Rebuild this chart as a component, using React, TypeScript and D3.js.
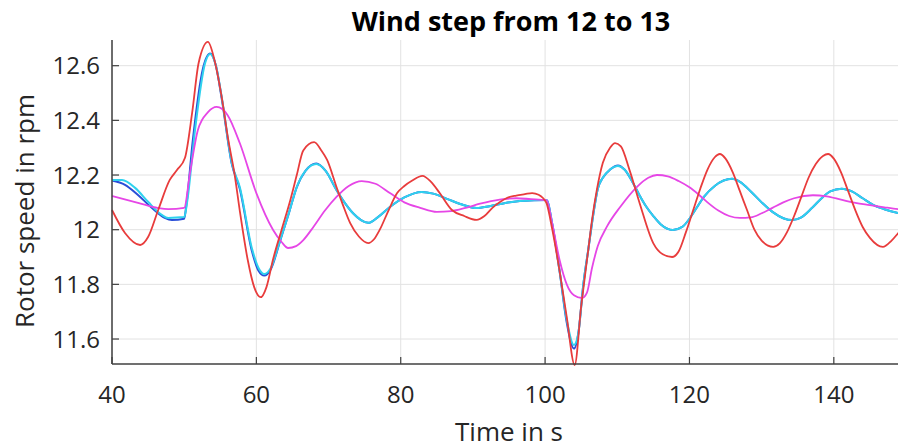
import React from "react";
import * as d3 from "d3";

// Time (s) / rotor speed (rpm) samples
const redT = [40, 41.8, 43.9, 45, 46.4, 48, 49, 50.1, 51.1, 52, 53.3, 54.2, 55.2, 56.1, 57, 57.7, 58.8, 59.7, 60.6, 61.4, 62.3, 63.5, 64.7, 65.6, 66.5, 68, 69, 69.8, 71.1, 72, 73, 74.2, 75.5, 76.3, 77.1, 78.3, 79.5, 80.5, 81.6, 83, 84.2, 85.4, 87.1, 88.8, 90.5, 91.6, 92.7, 93.7, 94.7, 96, 97.2, 98.2, 99.1, 99.7, 100.2, 101, 102, 103, 104.1, 105, 106, 106.5, 107.2, 108, 109, 109.7, 110.5, 111.7, 113.1, 115, 116.3, 117.6, 118.5, 119.5, 120.5, 121.5, 122.5, 123.5, 124.2, 125, 126, 127, 128, 129, 130, 131.6, 132.5, 133.5, 134.5, 135.5, 136.5, 137.5, 138.5, 139.2, 140, 141, 142, 143, 144, 145, 146.8, 148, 149, 150];
const redV = [12.072, 11.988, 11.944, 11.973, 12.072, 12.182, 12.218, 12.262, 12.427, 12.61, 12.687, 12.62, 12.485, 12.33, 12.2, 12.07, 11.89, 11.79, 11.753, 11.79, 11.89, 12.0, 12.108, 12.2, 12.29, 12.32, 12.29, 12.255, 12.156, 12.09, 12.024, 11.975, 11.951, 11.965, 12.0, 12.07, 12.134, 12.16, 12.18, 12.197, 12.175, 12.134, 12.072, 12.05, 12.036, 12.05, 12.08, 12.1, 12.116, 12.125, 12.13, 12.134, 12.128, 12.116, 12.097, 12.0, 11.85, 11.68, 11.505, 11.72, 11.93, 12.035, 12.15, 12.245, 12.3, 12.317, 12.305, 12.218, 12.097, 11.95, 11.91, 11.9, 11.92, 11.99, 12.07, 12.15, 12.22, 12.265, 12.277, 12.26, 12.21, 12.14, 12.07, 12.0, 11.96, 11.937, 11.95, 11.99, 12.05, 12.12, 12.19, 12.24, 12.27, 12.277, 12.26, 12.21, 12.14, 12.07, 12.01, 11.97, 11.937, 11.96, 11.99, 12.02];

const cyanT = [40, 41.4, 43.2, 45, 46.9, 47.8, 50, 50.4, 51.5, 52.9, 53.6, 54.4, 55.2, 56.6, 57.7, 59.4, 60.3, 61.1, 62, 63.3, 64.5, 65.6, 66.8, 68.3, 69.6, 71.1, 72.2, 73.4, 74.5, 75.5, 76.8, 78.5, 80.5, 82.9, 84.5, 86.5, 88.5, 90.5, 92.3, 94.5, 96.5, 98.5, 100.2, 101, 102, 103, 104, 104.6, 105.3, 106, 106.7, 107.3, 108, 109, 110.1, 111, 112.2, 113, 114, 115, 116, 117.7, 119, 120, 121, 122, 123.5, 125.9, 127, 128.5, 130, 131.5, 133, 134.2, 135.5, 137, 138.5, 139.5, 141.1, 142.5, 144, 145.5, 147, 148.9, 150];
const cyanV = [12.182, 12.182, 12.153, 12.102, 12.054, 12.043, 12.046, 12.1, 12.364, 12.61, 12.643, 12.6, 12.485, 12.243, 12.156, 11.93, 11.86, 11.838, 11.86, 11.962, 12.06, 12.156, 12.215, 12.24, 12.215, 12.145, 12.1, 12.06, 12.035, 12.025, 12.045, 12.083, 12.118, 12.138, 12.132, 12.112, 12.092, 12.079, 12.086, 12.098, 12.105, 12.108, 12.109, 12.02, 11.85, 11.67, 11.578, 11.62, 11.8, 11.93, 12.06, 12.15, 12.19, 12.22, 12.233, 12.22, 12.17, 12.13, 12.085, 12.05, 12.02, 11.999, 12.01, 12.04, 12.08, 12.12, 12.16, 12.186, 12.175, 12.14, 12.1, 12.065, 12.042, 12.035, 12.045, 12.08, 12.12, 12.14, 12.15, 12.14, 12.115, 12.09, 12.075, 12.061, 12.055];

const blueT = [40, 41.8, 43.6, 45.5, 47.3, 48.3, 50, 50.3, 51.2, 52.6, 53.6, 54.4, 55.2, 56.6, 57.7, 59.4, 60.3, 61.1, 62, 63.3, 64.5, 65.6, 66.8, 68.3, 69.6, 71.1, 72.2, 73.4, 74.5, 75.5, 76.8, 78.5, 80.5, 82.9, 84.5, 86.5, 88.5, 90.5, 92.3, 94.5, 96.5, 98.5, 100.2, 101, 102, 103, 104, 104.6, 105.3, 106, 106.7, 107.3, 108, 109, 110.1, 111, 112.2, 113, 114, 115, 116, 117.7, 119, 120, 121, 122, 123.5, 125.9, 127, 128.5, 130, 131.5, 133, 134.2, 135.5, 137, 138.5, 139.5, 141.1, 142.5, 144, 145.5, 147, 148.9, 150];
const blueV = [12.18, 12.164, 12.127, 12.08, 12.043, 12.035, 12.04, 12.09, 12.328, 12.59, 12.645, 12.6, 12.48, 12.24, 12.15, 11.92, 11.85, 11.832, 11.855, 11.96, 12.06, 12.156, 12.215, 12.242, 12.215, 12.145, 12.1, 12.06, 12.035, 12.025, 12.045, 12.083, 12.118, 12.138, 12.132, 12.112, 12.092, 12.079, 12.086, 12.098, 12.105, 12.108, 12.109, 12.02, 11.85, 11.66, 11.565, 11.62, 11.8, 11.93, 12.06, 12.15, 12.19, 12.22, 12.235, 12.22, 12.17, 12.13, 12.085, 12.05, 12.02, 11.999, 12.01, 12.04, 12.08, 12.12, 12.16, 12.186, 12.175, 12.14, 12.1, 12.065, 12.042, 12.035, 12.045, 12.08, 12.12, 12.14, 12.15, 12.14, 12.115, 12.09, 12.075, 12.061, 12.055];

const magentaT = [40, 43.6, 46.4, 47.8, 50, 50.8, 51.9, 53.3, 54.5, 56, 57.7, 60, 62.3, 63.5, 64.4, 65.5, 66.5, 67.9, 69.5, 71.1, 72.8, 74.6, 76.5, 78.5, 80.5, 82.7, 85, 87, 89, 91, 93.7, 96, 98, 100.2, 101, 102, 103, 104, 105.1, 105.8, 106.5, 107.3, 108.6, 110.4, 112.7, 114.3, 115.5, 117, 118.5, 120, 121.3, 122.5, 124, 125.5, 127, 128.5, 130, 131.5, 133, 134.5, 137.1, 139, 141, 143, 145, 147, 148.9, 150];
const magentaV = [12.123, 12.098, 12.079, 12.075, 12.08, 12.207, 12.365, 12.43, 12.449, 12.42, 12.317, 12.134, 12.0, 11.955, 11.933, 11.94, 11.962, 12.01, 12.07, 12.12, 12.16, 12.178, 12.168, 12.134, 12.1, 12.08, 12.065, 12.068, 12.08, 12.095, 12.11, 12.115, 12.112, 12.108, 12.02, 11.89, 11.8, 11.76, 11.75, 11.77, 11.86, 11.94, 12.013, 12.083, 12.156, 12.19, 12.2, 12.195, 12.178, 12.155, 12.128, 12.1, 12.07, 12.05, 12.043, 12.045, 12.06, 12.08, 12.1, 12.115, 12.126, 12.122, 12.11, 12.098, 12.09, 12.082, 12.075, 12.072];

const xTicks = [40, 60, 80, 100, 120, 140];
const yTicks = [11.6, 11.8, 12, 12.2, 12.4, 12.6];
const yTickLabels = ["11.6", "11.8", "12", "12.2", "12.4", "12.6"];

const W = 898;
const H = 448;
const L = 112;
const R = 906;
const T = 40;
const B = 364;

export default function App() {
  const x = d3.scaleLinear().domain([40, 150]).range([L, R]);
  const y = d3.scaleLinear().domain([11.5086, 12.694]).range([B, T]);
  const line = d3
    .line<[number, number]>()
    .x((d) => x(d[0]))
    .y((d) => y(d[1]))
    .curve(d3.curveMonotoneX);
  const zip = (ts: number[], vs: number[]) => ts.map((t, i) => [t, vs[i]] as [number, number]);
  const series = [
    { t: blueT, v: blueV, color: "#2a4fd8", w: 2 },
    { t: cyanT, v: cyanV, color: "#2fd2ee", w: 2 },
    { t: magentaT, v: magentaV, color: "#e646e6", w: 1.8 },
    { t: redT, v: redV, color: "#e83c3c", w: 1.8 },
  ];
  const font = "'Open Sans', 'Noto Sans', sans-serif";
  return (
    <svg width={W} height={H} style={{ position: "absolute", left: 0, top: 0, background: "#fff" }} fontFamily={font}>
      <rect width={W} height={H} fill="#fff" />
      {yTicks.map((v) => (
        <line key={"gy" + v} x1={L} x2={R} y1={y(v)} y2={y(v)} stroke="#e2e2e2" strokeWidth={1} />
      ))}
      {xTicks.map((t) => (
        <line key={"gx" + t} x1={x(t)} x2={x(t)} y1={T} y2={B} stroke="#e2e2e2" strokeWidth={1} />
      ))}
      {series.map((s, i) => (
        <path key={i} d={line(zip(s.t, s.v)) || ""} fill="none" stroke={s.color} strokeWidth={s.w} strokeLinejoin="round" />
      ))}
      <line x1={L} x2={L} y1={T} y2={B} stroke="#404040" strokeWidth={1.5} />
      <line x1={L} x2={R} y1={B} y2={B} stroke="#404040" strokeWidth={1.5} />
      {yTicks.map((v, i) => (
        <g key={"ty" + v}>
          <line x1={L} x2={L + 7} y1={y(v)} y2={y(v)} stroke="#404040" strokeWidth={1.2} />
          <text x={L - 12} y={y(v)} dy="0.36em" textAnchor="end" fontSize={24} fill="#262626">
            {yTickLabels[i]}
          </text>
        </g>
      ))}
      {xTicks.map((t) => (
        <g key={"tx" + t}>
          <line x1={x(t)} x2={x(t)} y1={B} y2={B - 7} stroke="#404040" strokeWidth={1.2} />
          <text x={x(t)} y={B + 39} textAnchor="middle" fontSize={24} fill="#262626">
            {t}
          </text>
        </g>
      ))}
      <text x={511} y={31} textAnchor="middle" fontSize={27} fontWeight="bold" fill="#000">
        Wind step from 12 to 13
      </text>
      <text x={509} y={441} textAnchor="middle" fontSize={26} fill="#262626">
        Time in s
      </text>
      <text transform={`translate(34, 211) rotate(-90)`} textAnchor="middle" fontSize={26} fill="#262626">
        Rotor speed in rpm
      </text>
    </svg>
  );
}
